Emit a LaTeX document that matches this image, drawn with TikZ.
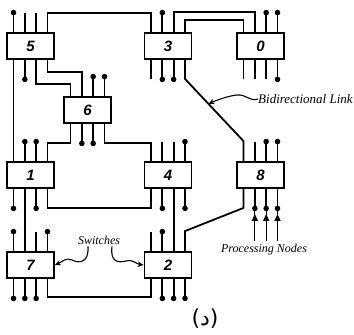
\documentclass[tikz,border=0pt]{standalone}
\usepackage{fontspec}
\setmainfont{Liberation Serif}
\newfontfamily\labelfont{Liberation Sans}
\newfontfamily\capfont{DejaVu Sans}
\newfontfamily\arabicfont[Script=Arabic]{DejaVu Sans}
\usetikzlibrary{calc,arrows.meta}

% a switch box with four pins on top (t1..t4) and four below (b1..b4)
\newcommand\swbox[3]{%
  \node[switchbox] (#1) at (#2) {#3};
  \foreach \k/\d in {1/-17,2/-5.67,3/5.67,4/17}{%
    \coordinate (#1t\k) at ($(#1.north)+(\d,0)$);
    \coordinate (#1b\k) at ($(#1.south)+(\d,0)$);
  }}
% free pins: with a pad at the end, or a bare stub
\newcommand\padup[1]{\draw[pin] (#1) -- ++(0,-19.5);\fill ($(#1)+(0,-19.5)$) circle[radius=2.8pt];}
\newcommand\paddown[1]{\draw[pin] (#1) -- ++(0,19.5);\fill ($(#1)+(0,19.5)$) circle[radius=2.8pt];}
\newcommand\stubup[1]{\draw[pin] (#1) -- ++(0,-19.5);}
\newcommand\stubdown[1]{\draw[pin] (#1) -- ++(0,19.5);}

\begin{document}
\begin{tikzpicture}[x=1pt,y=-1pt,
  switchbox/.style={draw,line width=1.8pt,minimum width=47pt,minimum height=26pt,
    inner sep=0pt,font=\labelfont\bfseries\itshape\fontsize{15}{15}\selectfont},
  pin/.style={line width=1.8pt},
  wire/.style={line width=1.8pt},
  note/.style={font=\itshape\fontsize{12}{12}\selectfont,inner sep=0pt},
  pointer/.style={line width=1.1pt,-{Stealth[length=6pt,width=5.5pt]}},
  feed/.style={line width=1.3pt},
  feedtip/.style={line width=1.3pt,-{Triangle[length=7pt,width=6pt]}},
]
\useasboundingbox (0,0) rectangle (354,335);

% switches
\swbox{b5}{30.5,46}{5}
\swbox{b3}{168,46}{3}
\swbox{b0}{260.5,46}{0}
\swbox{b6}{87.5,110}{6}
\swbox{b1}{30.5,175}{1}
\swbox{b4}{168,175}{4}
\swbox{b8}{260.5,175}{8}
\swbox{b7}{30.5,265}{7}
\swbox{b2}{168,265}{2}

% links between switches
\draw[wire] (b5t4) -- ++(0,-19) -| (b3t1);
\draw[wire] (b3t3) -- ++(0,-20) -| (b0t2);
\draw[wire] (b3t4) -- ++(0,-12) -| (b0t1);
\draw[wire] (b5b1) -- (b1t1);
\draw[wire] (b5b3) -- ++(0,24) -| (b6t1);
\draw[wire] (b5b4) -- ++(0,12) -| (b6t2);
\draw[wire] (b6b1) -- ++(0,19) -| (b1t4);
\draw[wire] (b6b4) -- ++(0,19) -| (b4t1);
\draw[wire] (b1b2) -- (b7t2);
\draw[wire] (b1b4) -- ++(0,19) -| (b4b1);
\draw[wire] (b4b3) -- (b2t3);
\draw[wire] (b7b4) -- ++(0,18) -| (b2b1);
\coordinate (k1) at ($(b3b4)+(0,19)$);
\coordinate (k2) at ($(b8t1)+(0,-20)$);
\draw[wire] (b3b4) -- (k1) -- (k2) -- (b8t1);
\coordinate (k3) at ($(b8b1)+(0,19)$);
\coordinate (k4) at ($(b2t4)+(0,-20)$);
\draw[wire] (b8b1) -- (k3) -- (k4) -- (b2t4);

% free pins, top side
\padup{b5t1} \stubup{b5t2} \stubup{b5t3}
\padup{b3t2}
\padup{b0t3} \padup{b0t4}
\padup{b6t3} \padup{b6t4}
\padup{b1t2} \padup{b1t3}
\stubup{b4t2} \stubup{b4t3} \padup{b4t4}
\stubup{b8t2} \padup{b8t3} \padup{b8t4}
\padup{b7t1} \stubup{b7t3} \padup{b7t4}
\stubup{b2t1} \padup{b2t2}

% free pins, bottom side
\paddown{b5b2}
\stubdown{b3b1} \paddown{b3b2} \paddown{b3b3}
\stubdown{b0b1} \stubdown{b0b2} \stubdown{b0b3} \paddown{b0b4}
\paddown{b6b2} \paddown{b6b3}
\paddown{b1b1} \paddown{b1b3}
\paddown{b4b2} \paddown{b4b4}
\paddown{b8b2} \paddown{b8b3} \paddown{b8b4}
\paddown{b7b1} \paddown{b7b2} \paddown{b7b3}
\paddown{b2b2} \paddown{b2b3} \paddown{b2b4}

% processing nodes feeding switch 8
\node[note] (pn) at (264,250) {Processing Nodes};
\foreach \k in {2,3,4}{
  \draw[feed] ($(b8b\k)+(0,52)$) -- ($(b8b\k)+(0,19.5)$);
  \draw[feedtip] ($(b8b\k)+(0,52)$) -- ($(b8b\k)+(0,25)$);
}

% annotations
\node[note,font=\itshape\fontsize{13}{13}\selectfont,anchor=west] (bl) at (258,99) {Bidirectional Link};
\coordinate (hit) at ($(k1)!0.4!(k2)$);
\draw[pointer] (bl.west) .. controls (250,102) and (246,94) .. (237,95)
  .. controls (228,96) and (220,99) .. (hit);

\node[note] (sw) at (99,240) {Switches};
\draw[pointer] ($(sw.south)+(-11,2)$) .. controls (89,262) and (80,264) .. (72,260)
  .. controls (66,257) and (62,262) .. (b7.east);
\draw[pointer] ($(sw.south)+(13,2)$) .. controls (110,262) and (118,263) .. (126,261)
  .. controls (133,259) and (136,264) .. (b2.west);

% caption
\node[font=\fontsize{22}{22}\selectfont,inner sep=0pt] (cap) at (205,319)
  {\capfont(\arabicfont د\capfont)};
\end{tikzpicture}
\end{document}
